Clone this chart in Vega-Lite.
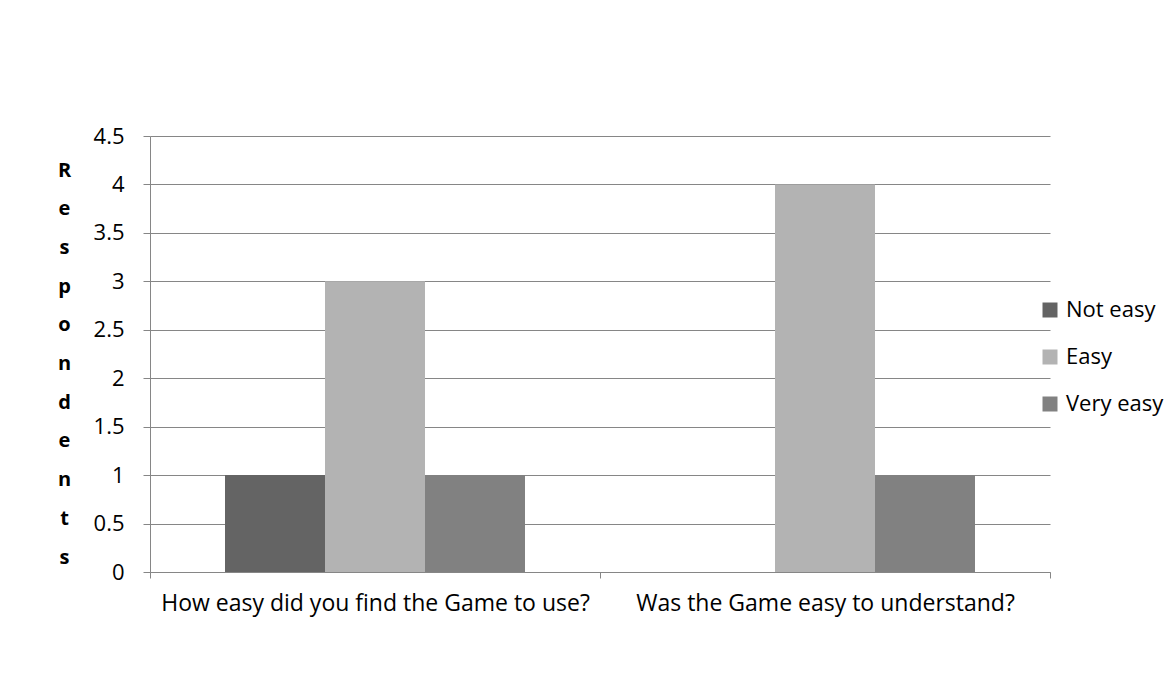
{
  "$schema": "https://vega.github.io/schema/vega-lite/v6.json",
  "width": 900,
  "height": 436,
  "autosize": {"type": "none"},
  "padding": {"left": 150, "top": 136, "right": 121, "bottom": 116},
  "background": "white",
  "config": {
    "font": "Open Sans",
    "view": {"stroke": null},
    "axis": {"labelFont": "Open Sans", "titleFont": "Open Sans", "labelColor": "#000000", "titleColor": "#000000"},
    "legend": {"padding": 0}
  },
  "data": {
    "values": [
      {"question": "How easy did you find the Game to use?", "rating": "Not easy", "count": 1},
      {"question": "How easy did you find the Game to use?", "rating": "Easy", "count": 3},
      {"question": "How easy did you find the Game to use?", "rating": "Very easy", "count": 1},
      {"question": "Was the Game easy to understand?", "rating": "Not easy", "count": 0},
      {"question": "Was the Game easy to understand?", "rating": "Easy", "count": 4},
      {"question": "Was the Game easy to understand?", "rating": "Very easy", "count": 1}
    ]
  },
  "mark": {"type": "bar"},
  "encoding": {
    "x": {
      "field": "question",
      "type": "nominal",
      "sort": null,
      "scale": {"paddingInner": 0, "paddingOuter": 0},
      "axis": {
        "title": null,
        "labelAngle": 0,
        "labelFontSize": 23,
        "labelPadding": 14,
        "tickBand": "extent",
        "tickSize": 6,
        "tickColor": "#868686",
        "domainColor": "#868686",
        "labelLimit": 500
      }
    },
    "xOffset": {
      "field": "rating",
      "type": "nominal",
      "sort": ["Not easy", "Easy", "Very easy"],
      "scale": {"paddingInner": 0, "paddingOuter": 0.75}
    },
    "y": {
      "field": "count",
      "type": "quantitative",
      "scale": {"domain": [0, 4.5], "nice": false},
      "axis": {
        "values": [0, 0.5, 1, 1.5, 2, 2.5, 3, 3.5, 4, 4.5],
        "format": ".1~f",
        "title": ["R", "e", "s", "p", "o", "n", "d", "e", "n", "t", "s"],
        "titleAngle": 0,
        "titleFontSize": 20,
        "titleFontWeight": "bold",
        "titleLineHeight": 38.7,
        "titleAlign": "center",
        "titleBaseline": "middle",
        "titleX": -86,
        "titleY": 34,
        "labelFontSize": 22,
        "labelPadding": 19,
        "tickSize": 7,
        "tickColor": "#868686",
        "domainColor": "#868686",
        "grid": true,
        "gridColor": "#868686",
        "gridWidth": 1
      }
    },
    "color": {
      "field": "rating",
      "type": "nominal",
      "sort": ["Not easy", "Easy", "Very easy"],
      "scale": {"domain": ["Not easy", "Easy", "Very easy"], "range": ["#646464", "#b3b3b3", "#818181"]},
      "legend": {
        "title": null,
        "orient": "none",
        "legendX": 889,
        "legendY": 163,
        "symbolType": "square",
        "symbolSize": 225,
        "symbolStrokeWidth": 0,
        "symbolOpacity": 1,
        "labelFontSize": 22,
        "labelColor": "#000000",
        "labelOffset": 5,
        "rowPadding": 25,
        "labelLimit": 300
      }
    }
  }
}
